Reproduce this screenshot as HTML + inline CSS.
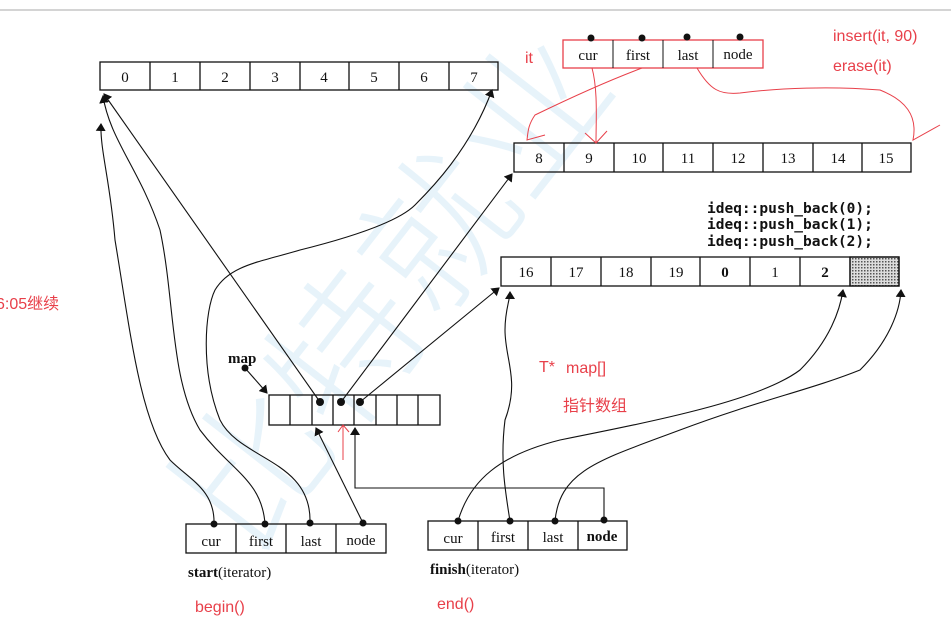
<!DOCTYPE html>
<html><head><meta charset="utf-8"><style>
html,body{margin:0;padding:0;background:#fff;}
svg{display:block;}
.b{font-family:"Liberation Serif",serif;font-size:15px;fill:#111;}
.r{font-family:"Liberation Sans","Noto Sans CJK SC",sans-serif;font-size:16px;fill:#e8404a;}
.m{font-family:"DejaVu Sans Mono",monospace;font-size:14.5px;font-weight:bold;fill:#111;}
</style></head><body>
<svg width="951" height="635" viewBox="0 0 951 635" xmlns="http://www.w3.org/2000/svg">
<defs>
<marker id="a" markerWidth="8" markerHeight="10" refX="7" refY="5" orient="auto" markerUnits="userSpaceOnUse"><path d="M0,0 L8,5 L0,10 Z" fill="#111"/></marker>
<pattern id="h" width="3" height="3" patternUnits="userSpaceOnUse"><rect width="3" height="3" fill="#ddd"/><rect width="1.5" height="1.5" fill="#555"/></pattern>
</defs>
<line x1="0" y1="10" x2="951" y2="10" stroke="#aaa" stroke-width="1"/>
<text x="0" y="0" transform="translate(250,560) rotate(-52)" font-family="Noto Sans CJK SC,sans-serif" font-size="150" font-weight="300" fill="#d4eaf6" opacity="0.55">比特就业</text>

<g fill="none" stroke="#111" stroke-width="1.3">
<rect x="100" y="62" width="398" height="28"/>
<path d="M150 62V90M200 62V90M250 62V90M300 62V90M349 62V90M399 62V90M449 62V90"/>
<rect x="514" y="143" width="397" height="29"/>
<path d="M564 143V172M614 143V172M663 143V172M713 143V172M763 143V172M813 143V172M862 143V172"/>
<rect x="850" y="257" width="49" height="29" fill="url(#h)"/>
<rect x="501" y="257" width="398" height="29"/>
<path d="M551 257V286M601 257V286M651 257V286M700 257V286M750 257V286M800 257V286M850 257V286"/>
<rect x="269" y="395" width="171" height="30"/>
<path d="M290 395V425M312 395V425M333 395V425M354 395V425M376 395V425M397 395V425M418 395V425"/>
<rect x="186" y="524" width="200" height="29"/>
<path d="M236 524V553M286 524V553M336 524V553"/>
<rect x="428" y="521" width="199" height="29"/>
<path d="M478 521V550M528 521V550M578 521V550"/>
</g>
<rect x="563" y="40" width="200" height="28" fill="none" stroke="#e8404a" stroke-width="1.3"/>
<path d="M613 40V68M663 40V68M713 40V68" stroke="#111" stroke-width="1"/>

<g class="b" text-anchor="middle">
<text x="125" y="82">0</text><text x="175" y="82">1</text><text x="225" y="82">2</text><text x="275" y="82">3</text><text x="324" y="82">4</text><text x="374" y="82">5</text><text x="424" y="82">6</text><text x="474" y="82">7</text>
<text x="539" y="163">8</text><text x="589" y="163">9</text><text x="639" y="163">10</text><text x="688" y="163">11</text><text x="738" y="163">12</text><text x="788" y="163">13</text><text x="838" y="163">14</text><text x="886" y="163">15</text>
<text x="526" y="277">16</text><text x="576" y="277">17</text><text x="626" y="277">18</text><text x="676" y="277">19</text><text x="725" y="277" font-weight="bold">0</text><text x="775" y="277">1</text><text x="825" y="277" font-weight="bold">2</text>
<text x="588" y="60">cur</text><text x="638" y="60">first</text><text x="688" y="60">last</text><text x="738" y="59">node</text>
<text x="211" y="546">cur</text><text x="261" y="546">first</text><text x="311" y="546">last</text><text x="361" y="545">node</text>
<text x="453" y="543">cur</text><text x="503" y="542">first</text><text x="553" y="542">last</text><text x="602" y="541" font-weight="bold">node</text>
</g>
<text class="b" x="228" y="363" font-weight="bold">map</text>
<text class="b" x="188" y="577"><tspan font-weight="bold">start</tspan>(iterator)</text>
<text class="b" x="430" y="574"><tspan font-weight="bold">finish</tspan>(iterator)</text>
<text class="m" x="707" y="213">ideq::push_back(0);</text>
<text class="m" x="707" y="229">ideq::push_back(1);</text>
<text class="m" x="707" y="246">ideq::push_back(2);</text>
<g class="r">
<text x="525" y="63">it</text>
<text x="833" y="41">insert(it, 90)</text>
<text x="833" y="71">erase(it)</text>
<text x="539" y="372">T*</text><text x="566" y="373">map[]</text>
<text x="563" y="411">指针数组</text>
<text x="-4" y="309">6:05继续</text>
<text x="195" y="612">begin()</text>
<text x="437" y="609">end()</text>
</g>

<g fill="#111">
<circle cx="591" cy="38" r="3.5"/><circle cx="642" cy="38" r="3.5"/><circle cx="687" cy="37" r="3.5"/><circle cx="740" cy="37" r="3.5"/>
<circle cx="320" cy="402" r="4"/><circle cx="341" cy="402" r="4"/><circle cx="360" cy="402" r="4"/>
<circle cx="245" cy="368" r="3.5"/>
<circle cx="214" cy="524" r="3.5"/><circle cx="265" cy="524" r="3.5"/><circle cx="310" cy="523" r="3.5"/><circle cx="363" cy="523" r="3.5"/>
<circle cx="458" cy="521" r="3.5"/><circle cx="510" cy="521" r="3.5"/><circle cx="555" cy="521" r="3.5"/><circle cx="604" cy="520" r="3.5"/>
</g>

<g fill="none" stroke="#111" stroke-width="1.1" marker-end="url(#a)">
<path d="M245 368 L267 393"/>
<path d="M320 402 L104 94"/>
<path d="M341 402 L512 174"/>
<path d="M360 402 L499 288"/>
<path d="M363 523 L316 428"/>
<path d="M604 520 V488 H355 V428"/>
<path d="M214 524 C215 490 190 480 170 460 C140 420 130 330 115 240 C110 180 100 150 101 124"/>
<path d="M265 524 C262 480 230 470 200 430 C170 380 175 300 160 230 C140 170 110 140 103 96"/>
<path d="M310 523 C312 460 240 460 220 420 C200 370 205 310 215 290 C230 265 260 262 300 250 C360 235 400 220 415 205 C430 190 470 150 492 90"/>
<path d="M510 521 C505 490 500 460 505 420 C520 380 505 360 505 330 C505 310 510 300 510 292"/>
<path d="M458 521 C470 480 500 455 560 440 C660 420 760 400 800 370 C830 340 840 310 843 290"/>
<path d="M555 521 C560 470 600 460 680 430 C760 400 810 390 860 370 C890 340 900 310 901 290"/>
</g>

<g fill="none" stroke="#e8404a" stroke-width="1">
<path d="M592 68 C598 90 596 120 596 143"/>
<path d="M585 133 L596 143 L607 131"/>
<path d="M642 68 C610 80 570 98 535 115 C528 125 528 132 527 140 L545 135"/>
<path d="M697 68 C710 90 720 95 740 93 C780 88 830 86 880 90 C905 100 918 115 913 140 L940 125"/>
<path d="M343 460 V425 M338 432 L343 425 L349 432"/>
</g>
</svg>
</body></html>
